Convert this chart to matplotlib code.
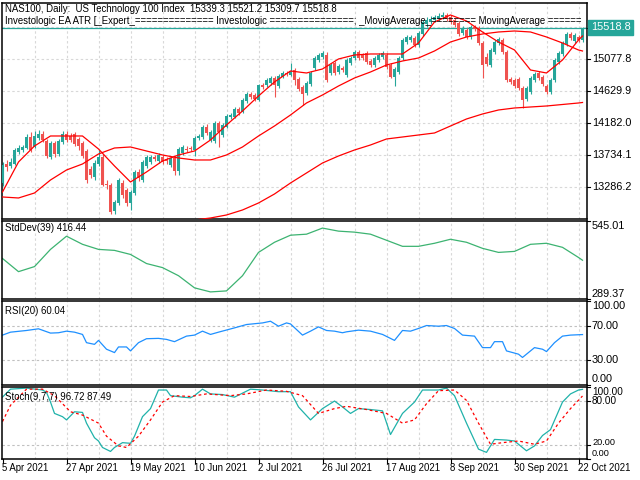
import matplotlib
matplotlib.use("Agg")
import matplotlib.pyplot as plt
import numpy as np

plt.rcParams['font.family'] = ['Liberation Sans', 'DejaVu Sans']

# ---------------- data ----------------
date_labels = ["5 Apr 2021", "27 Apr 2021", "19 May 2021", "10 Jun 2021", "2 Jul 2021",
               "26 Jul 2021", "17 Aug 2021", "8 Sep 2021", "30 Sep 2021", "22 Oct 2021"]
date_bars = [0, 16, 32, 48, 64, 80, 96, 112, 128, 144]

opens = [13342, 13608, 13580, 13608, 13776, 13804, 13832, 13986, 13846, 13972,
         14028, 13930, 13706, 13902, 13748, 13916, 14028, 14000, 14028, 13958,
         13902, 13790, 13538, 13426, 13608, 13706, 13328, 13314, 12950, 13062,
         13342, 13244, 13062, 13202, 13496, 13384, 13580, 13636, 13706, 13650,
         13706, 13678, 13594, 13692, 13510, 13762, 13818, 13832, 13804, 13972,
         13986, 14126, 13944, 13930, 14182, 14014, 14126, 14266, 14266, 14378,
         14336, 14490, 14588, 14574, 14504, 14714, 14714, 14742, 14812, 14700,
         14826, 14882, 14854, 14924, 14798, 14686, 14602, 14728, 14952, 15064,
         15106, 15134, 14882, 15022, 14896, 14952, 14854, 15022, 15092, 15176,
         15134, 15162, 15050, 14994, 15064, 15106, 15134, 14994, 14826, 14896,
         15092, 15316, 15344, 15372, 15274, 15428, 15568, 15596, 15624, 15638,
         15666, 15694, 15666, 15624, 15582, 15442, 15484, 15386, 15526, 15512,
         15302, 15106, 14994, 15176, 15302, 15344, 15176, 14798, 14784, 14798,
         14672, 14518, 14616, 14784, 14882, 14826, 14700, 14616, 14784, 15036,
         15148, 15288, 15428, 15330, 15386, 15339.3]
highs = [13636, 13664, 13692, 13832, 13874, 13874, 14028, 14056, 14070, 14084,
         14070, 13958, 13930, 13930, 13958, 14070, 14070, 14042, 14056, 13986,
         13930, 13818, 13580, 13664, 13804, 13748, 13384, 13342, 13104, 13412,
         13384, 13272, 13244, 13524, 13538, 13664, 13734, 13734, 13734, 13762,
         13734, 13706, 13720, 13720, 13846, 13874, 13860, 13860, 14000, 14028,
         14154, 14168, 14084, 14210, 14210, 14182, 14308, 14322, 14406, 14406,
         14532, 14616, 14616, 14602, 14728, 14742, 14812, 14840, 14840, 14868,
         14910, 14910, 15022, 14952, 14826, 14714, 14770, 14910, 15120, 15162,
         15190, 15176, 15022, 15050, 15008, 14980, 15092, 15120, 15204, 15204,
         15162, 15190, 15078, 15120, 15162, 15190, 15162, 15022, 14966, 15120,
         15372, 15414, 15414, 15400, 15470, 15624, 15666, 15680, 15694, 15722,
         15736, 15722, 15694, 15652, 15610, 15540, 15512, 15554, 15554, 15540,
         15330, 15162, 15232, 15344, 15386, 15372, 15204, 14826, 14812, 14826,
         14700, 14700, 14840, 14896, 14910, 14854, 14728, 14812, 15092, 15190,
         15330, 15456, 15456, 15442, 15414, 15521.2]
lows = [13300, 13510, 13552, 13594, 13748, 13776, 13818, 13776, 13832, 13944,
        13916, 13692, 13678, 13706, 13720, 13888, 13916, 13916, 13860, 13804,
        13692, 13342, 13412, 13384, 13580, 13300, 13258, 12908, 12908, 13034,
        13132, 13020, 12964, 13174, 13370, 13356, 13552, 13608, 13650, 13622,
        13608, 13608, 13566, 13454, 13454, 13734, 13776, 13790, 13720, 13944,
        13958, 14014, 13916, 13902, 13846, 13986, 14112, 14238, 14252, 14294,
        14322, 14462, 14518, 14490, 14490, 14658, 14686, 14714, 14546, 14672,
        14812, 14840, 14840, 14714, 14630, 14434, 14574, 14700, 14924, 15036,
        15078, 14756, 14854, 14854, 14868, 14896, 14826, 14994, 15064, 15064,
        15064, 15008, 14966, 14966, 15036, 15078, 14938, 14812, 14700, 14868,
        15064, 15288, 15316, 15246, 15246, 15400, 15526, 15568, 15596, 15610,
        15638, 15610, 15568, 15526, 15400, 15414, 15358, 15358, 15470, 15274,
        14812, 14980, 14966, 15148, 15274, 15148, 14756, 14728, 14672, 14644,
        14392, 14490, 14588, 14756, 14784, 14700, 14588, 14588, 14756, 15008,
        15120, 15260, 15344, 15302, 15316, 15309.7]
closes = [13594, 13566, 13636, 13804, 13832, 13846, 13986, 13804, 14000, 14028,
          13944, 13720, 13902, 13748, 13930, 14028, 13944, 13944, 13888, 13860,
          13720, 13384, 13454, 13622, 13706, 13314, 13314, 12936, 13076, 13384,
          13174, 13062, 13216, 13496, 13412, 13636, 13706, 13706, 13678, 13734,
          13636, 13650, 13692, 13510, 13818, 13846, 13804, 13818, 13972, 14000,
          14126, 14042, 14056, 14182, 14056, 14154, 14280, 14294, 14378, 14322,
          14504, 14588, 14546, 14518, 14714, 14686, 14784, 14812, 14714, 14840,
          14882, 14868, 14910, 14784, 14658, 14588, 14742, 14882, 15092, 15134,
          15162, 14784, 14994, 14882, 14980, 14924, 15064, 15092, 15176, 15092,
          15092, 15036, 14994, 15092, 15134, 15162, 14966, 14826, 14938, 15092,
          15344, 15386, 15386, 15274, 15442, 15596, 15624, 15638, 15666, 15680,
          15694, 15638, 15596, 15554, 15428, 15512, 15386, 15526, 15498, 15302,
          14994, 15008, 15204, 15316, 15358, 15176, 14784, 14756, 14700, 14672,
          14504, 14672, 14812, 14868, 14812, 14728, 14616, 14784, 15064, 15162,
          15302, 15428, 15372, 15414, 15339, 15518.8]

ma_idx = list(range(0, 145, 4)) + [145]
ma_fast = [13216, 13636, 13860, 14000, 14000, 14000, 13818, 13580, 13356, 13496,
           13650, 13734, 13790, 13944, 14154, 14350, 14560, 14756, 14910, 14882,
           14938, 15078, 15134, 15148, 15148, 15148, 15302, 15596, 15694, 15610,
           15456, 15316, 15204, 14924, 14882, 15064, 15344, 15400]
ma_mid = [13146, 13132, 13202, 13384, 13524, 13608, 13748, 13832, 13846, 13790,
          13734, 13692, 13664, 13664, 13734, 13846, 14000, 14140, 14294, 14462,
          14574, 14700, 14812, 14896, 14994, 15050, 15092, 15190, 15316, 15386,
          15428, 15456, 15470, 15456, 15386, 15302, 15204, 15190]
ma_slow_idx = list(range(48, 145, 4)) + [145]
ma_slow = [12824, 12852, 12894, 12964, 13062, 13188, 13342, 13482, 13622, 13720,
           13804, 13874, 13958, 13986, 14014, 14042, 14140, 14238, 14308, 14364,
           14392, 14406, 14420, 14441, 14462, 14469]

stddev = [422.2, 379.0, 395.6, 452.0, 495.2, 468.6, 452.0, 448.7, 435.4, 405.6,
          392.3, 365.7, 325.9, 312.6, 315.9, 365.7, 442.1, 475.3, 498.5, 501.8,
          521.8, 511.8, 508.5, 501.8, 481.9, 462.0, 462.0, 472.0, 485.2, 475.3,
          455.4, 442.1, 445.4, 468.6, 472.0, 458.7, 425.5, 416.44]

rsi_idx = [0, 2, 6, 9, 12, 14, 16, 18, 20, 21, 23, 24, 26, 28, 29, 31, 32, 34, 36, 39,
           41, 43, 46, 48, 50, 52, 54, 58, 61, 65, 67, 69, 71, 72, 75, 77, 79, 81, 83, 85,
           86, 89, 92, 95, 98, 100, 102, 104, 106, 109, 111, 113, 115, 118, 120, 122, 123, 125, 126, 129,
           130, 133, 135, 136, 138, 140, 142, 145]
rsi_vals = [59.4, 62.9, 64.9, 66.9, 61.8, 62.2, 64.1, 62.9, 60.2, 50.4, 48.4, 53.1, 42.6, 38.6, 45.3, 45.3, 40.6, 50.4, 55.1, 55.5,
            54.3, 51.6, 58.2, 59.4, 64.1, 60.2, 62.9, 68.0, 72.0, 73.9, 75.9, 70.0, 73.9, 72.7, 59.4, 64.1, 69.2, 64.9, 64.1, 62.2,
            63.3, 65.3, 64.1, 60.2, 53.1, 64.9, 64.1, 67.3, 70.8, 70.0, 70.8, 67.3, 59.4, 58.2, 44.5, 44.5, 51.6, 51.6, 40.6, 36.7,
            32.8, 44.5, 42.6, 39.8, 50.4, 58.2, 59.4, 60.04]

k_idx = [0, 2, 6, 10, 11, 12, 13, 15, 16, 18, 20, 21, 23, 24, 25, 27, 28, 30, 32, 33,
         35, 37, 39, 41, 42, 45, 47, 48, 50, 52, 55, 58, 62, 65, 69, 72, 74, 77, 80, 83,
         85, 87, 89, 92, 95, 97, 100, 103, 105, 109, 111, 113, 116, 119, 121, 123, 126, 128, 131, 133,
         135, 137, 140, 142, 144, 145]
k_vals = [86, 97, 98.5, 95.8, 92.6, 79.1, 63.3, 58.8, 54.3, 65.6, 64.7, 49.8, 29.5, 25, 16, 10.5, 16, 22.7, 21.8, 31.7,
          58.8, 70, 95.8, 95.8, 88, 85.9, 85, 88, 97, 90.4, 89.5, 85.9, 97, 95.8, 93.5, 93.5, 72.3, 54.3, 70, 80.5,
          72.3, 63.3, 70, 68.7, 66.9, 34, 63.3, 79.1, 95.8, 95.8, 98.5, 88, 49.8, 13.7, 9.2, 27.2, 26.3, 25, 11.4, 18.2,
          32.6, 40.8, 79.1, 90.4, 95.8, 96.72]
d_idx = [0, 2, 6, 10, 13, 17, 20, 24, 26, 29, 31, 34, 37, 40, 43, 47, 51, 57, 61, 66,
         71, 75, 79, 83, 86, 91, 96, 100, 103, 106, 109, 113, 116, 119, 122, 125, 129, 133, 136, 139,
         142, 145]
d_vals = [52, 74.6, 97, 97, 88, 65.6, 61, 49.8, 31.7, 18.2, 16, 31.7, 54.3, 79.1, 88, 86.8, 90.4, 88, 90.4, 95.8,
          94, 88, 63.3, 70, 73.2, 68.7, 63.3, 49.8, 54.3, 76.8, 94.9, 95.8, 81.4, 49.8, 20.5, 22.7, 25, 20.5, 25, 49.8,
          70, 87.49]

main_ticks = [15077.8, 14629.9, 14182.0, 13734.1, 13286.2]
last_price = 15518.8

# ---------------- style ----------------
BULL = '#26A69A'
BEAR = '#EF5350'
GRID = '#D8D8D8'
W, H = 640, 480
FS_AX = 7.8   # right-hand axis labels
FS = 6.9      # other texts
fig = plt.figure(figsize=(6.4, 4.8), dpi=100)


def px_axes(x0, y0, x1, y1):
    return fig.add_axes([x0 / W, 1 - y1 / H, (x1 - x0) / W, (y1 - y0) / H])


ax_main = px_axes(2, 3, 587, 219)
ax_sd = px_axes(2, 221, 587, 299)
ax_rsi = px_axes(2, 301, 587, 385)
ax_st = px_axes(2, 387, 587, 459)
axes = [ax_main, ax_sd, ax_rsi, ax_st]

XL = (-0.125, 146.125)
for ax in axes:
    ax.set_xlim(*XL)
    ax.set_xticks([])
    ax.set_yticks([])
    for s in ax.spines.values():
        s.set_color('black')
        s.set_linewidth(1.1)
    for g in range(8, 146, 8):
        ax.axvline(g, color=GRID, lw=0.8, ls=(0, (2.2, 2.2)), zorder=0)


def right_labels(ax, items, fs=FS_AX):
    trans = ax.get_yaxis_transform()
    for val, txt, dy in items:
        ax.plot([1, 1 + 3 / 585], [val, val], transform=trans, color='black', lw=0.8, clip_on=False)
        ax.annotate(txt, xy=(1, val), xycoords=trans, xytext=(5, dy), textcoords='offset pixels',
                    ha='left', va='center', fontsize=fs, annotation_clip=False)


# ---------------- main panel ----------------
ax_main.set_ylim(12837.8, 15861.8)
for t in main_ticks + [15525.7]:
    ax_main.axhline(t, color=GRID, lw=0.8, ls=(0, (2.2, 2.2)), zorder=0)

n = len(closes)
xs = np.arange(n)
o = np.array(opens, dtype=float)
c = np.array(closes, dtype=float)
hi = np.array(highs, dtype=float)
lo = np.array(lows, dtype=float)
up = c >= o
cols = [BULL if u else BEAR for u in up]
ax_main.vlines(xs, lo, hi, colors=cols, lw=0.8, zorder=2)
bottoms = np.minimum(o, c)
heights = np.maximum(np.abs(c - o), 12)
ax_main.bar(xs, heights, bottom=bottoms, width=0.72, color=cols, linewidth=0, zorder=3)

ax_main.axhline(last_price, color=BULL, lw=0.9, zorder=1)
ax_main.plot(ma_idx, ma_fast, color='red', lw=0.9, zorder=4)
ax_main.plot(ma_idx, ma_mid, color='red', lw=0.9, zorder=4)
ax_main.plot(ma_slow_idx, ma_slow, color='red', lw=0.9, zorder=4)

right_labels(ax_main, [(v, f"{v:.1f}", 0) for v in main_ticks])
tr = ax_main.get_yaxis_transform()
ax_main.plot([1, 1 + 3 / 585], [last_price, last_price], transform=tr, color='black', lw=0.8, clip_on=False)
ax_main.annotate(f"{last_price:.1f}", xy=(1, last_price), xycoords=tr, xytext=(4, 0),
                 textcoords='offset pixels', ha='left', va='center', fontsize=FS_AX, color='white',
                 bbox=dict(boxstyle='square,pad=0.25', fc=BULL, ec=BULL), annotation_clip=False)

ax_main.text(3 / 585, 1 - 6 / 216, "NAS100, Daily:  US Technology 100 Index  15339.3 15521.2 15309.7 15518.8",
             transform=ax_main.transAxes, ha='left', va='center', fontsize=FS, zorder=6)
ax_main.text(3 / 585, 1 - 18 / 216,
             "Investologic EA ATR [_Expert_============== Investologic ===============; "
             "_MovigAverage_======== MovingAverage ======",
             transform=ax_main.transAxes, ha='left', va='center', fontsize=FS, zorder=6, clip_on=True)

# ---------------- StdDev ----------------
ax_sd.set_ylim(289.37, 545.01)
ax_sd.plot(ma_idx, stddev, color='#3CB371', lw=0.9)
right_labels(ax_sd, [(545.01, "545.01", -5), (289.37, "289.37", 5)])
ax_sd.text(3 / 585, 1 - 7 / 78, "StdDev(39) 416.44", transform=ax_sd.transAxes,
           ha='left', va='center', fontsize=FS)

# ---------------- RSI ----------------
ax_rsi.set_ylim(0, 100)
for lv in (70, 30):
    ax_rsi.axhline(lv, color='#C0C0C0', lw=0.8, ls=(0, (2.2, 2.2)), zorder=0)
ax_rsi.plot(rsi_idx, rsi_vals, color='#1E90FF', lw=0.9)
right_labels(ax_rsi, [(100, "100.00", -5), (70, "70.00", 0), (30, "30.00", 0), (0, "0.00", 6)])
ax_rsi.text(3 / 585, 1 - 10 / 84, "RSI(20) 60.04", transform=ax_rsi.transAxes,
            ha='left', va='center', fontsize=FS)

# ---------------- Stochastic ----------------
ax_st.set_ylim(0, 100)
for lv in (80, 20):
    ax_st.axhline(lv, color='#C0C0C0', lw=0.8, ls=(0, (2.2, 2.2)), zorder=0)
ax_st.plot(k_idx, k_vals, color='#20B2AA', lw=0.9)
ax_st.plot(d_idx, d_vals, color='red', lw=0.9, ls=(0, (2.2, 2.2)))
right_labels(ax_st, [(100, "100.00", -5), (80, "80.00", 0)], fs=7.2)
right_labels(ax_st, [(20, "20.00", 2), (0, "0.00", 5)], fs=6.6)
ax_st.text(3 / 585, 1 - 10 / 72, "Stoch(9,7,7) 96.72 87.49", transform=ax_st.transAxes,
           ha='left', va='center', fontsize=FS)

# date axis
trx = ax_st.get_xaxis_transform()
for b, lab in zip(date_bars, date_labels):
    ax_st.plot([b, b], [0, -4 / 72], transform=trx, color='black', lw=0.8, clip_on=False)
    ax_st.annotate(lab, xy=(b, 0), xycoords=trx, xytext=(0, -9), textcoords='offset pixels',
                   ha='left', va='center', fontsize=FS, annotation_clip=False)

fig.savefig("out.png", dpi=100)
